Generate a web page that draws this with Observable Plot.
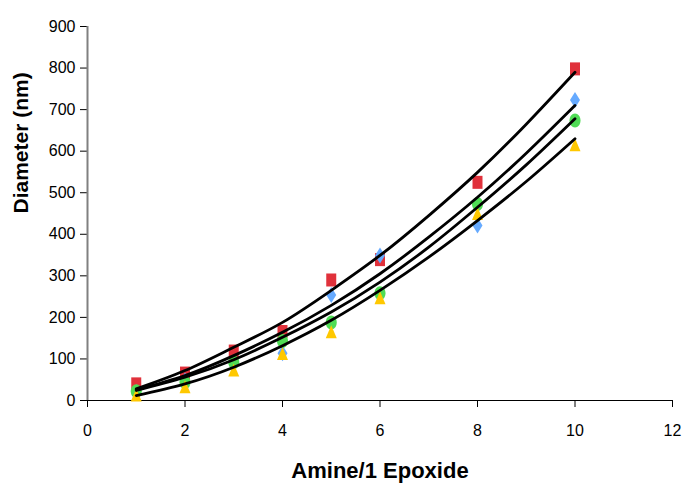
<!DOCTYPE html>
<html>
<head>
<meta charset="utf-8">
<script src="https://cdn.jsdelivr.net/npm/d3@7"></script>
<script src="https://cdn.jsdelivr.net/npm/@observablehq/plot@0.6"></script>
<style>
  body { margin: 0; background: #fff; }
  svg { font-family: "Liberation Sans", Arial, sans-serif; }
</style>
</head>
<body>
<div id="chart"></div>
<script>
// Measured points
const xPts = [1, 2, 3, 4, 5, 6, 8, 10];
const redVals    = [40, 66, 119, 166, 290, 339, 525, 798];
const blueVals   = [20, 48, 88, 114, 254, 349, 421, 723];
const greenVals  = [22, 44, 92, 143, 188, 258, 473, 674];
const yellowVals = [12, 32, 72, 112, 164, 246, 449, 614];

// Trendlines
const xCurve = [1, 2, 3, 4, 5, 6, 7, 8, 9, 10];
const redCurve    = [28, 72, 128, 188, 265, 349, 445, 549, 665, 790];
const blueCurve   = [26, 60, 108, 164, 229, 305, 393, 489, 595, 710];
const greenCurve  = [24, 56, 98, 152, 213, 285, 369, 465, 567, 678];
const yellowCurve = [12, 40, 80, 132, 193, 265, 345, 433, 527, 630];

const xTicks = [0, 2, 4, 6, 8, 10, 12];
const yTicks = [0, 100, 200, 300, 400, 500, 600, 700, 800, 900];

// Custom marker shapes (taller than wide, as in the original)
const tallSquare = {draw(c) { c.moveTo(-5, -6.5); c.lineTo(5, -6.5); c.lineTo(5, 6.5); c.lineTo(-5, 6.5); c.closePath(); }};
const tallDiamond = {draw(c) { c.moveTo(0, -8); c.lineTo(5, 0); c.lineTo(0, 8); c.lineTo(-5, 0); c.closePath(); }};
const tallEllipse = {draw(c) {
  const rx = 5.5, ry = 7, k = 0.5523;
  c.moveTo(rx, 0);
  c.bezierCurveTo(rx, ry * k, rx * k, ry, 0, ry);
  c.bezierCurveTo(-rx * k, ry, -rx, ry * k, -rx, 0);
  c.bezierCurveTo(-rx, -ry * k, -rx * k, -ry, 0, -ry);
  c.bezierCurveTo(rx * k, -ry, rx, -ry * k, rx, 0);
  c.closePath();
}};
const tallTriangle = {draw(c) { c.moveTo(0, -7); c.lineTo(5.5, 6); c.lineTo(-5.5, 6); c.closePath(); }};

const seriesDefs = [
  {name: "red", vals: redVals, curve: redCurve, color: "#e0313b", symbol: tallSquare},
  {name: "blue", vals: blueVals, curve: blueCurve, color: "#66aaff", symbol: tallDiamond},
  {name: "green", vals: greenVals, curve: greenCurve, color: "#50dc55", symbol: tallEllipse},
  {name: "yellow", vals: yellowVals, curve: yellowCurve, color: "#ffc800", symbol: tallTriangle}
];

const marks = [];
for (const s of seriesDefs) {
  const pts = xPts.map((x, i) => ({x, y: s.vals[i]}));
  marks.push(Plot.dot(pts, {x: "x", y: "y", symbol: s.symbol, fill: s.color, stroke: "none", r: 6}));
}
for (const s of seriesDefs) {
  const line = xCurve.map((x, i) => ({x, y: s.curve[i]}));
  marks.push(Plot.line(line, {x: "x", y: "y", stroke: "black", strokeWidth: 2.8, curve: "natural"}));
}

const plot = Plot.plot({
  width: 685,
  height: 489,
  marginLeft: 87,
  marginRight: 13,
  marginTop: 26,
  marginBottom: 89,
  style: {fontFamily: "Liberation Sans, Arial, sans-serif", background: "#fff"},
  x: {domain: [0, 12]},
  y: {domain: [0, 900]},
  marks: [
    Plot.axisX({ticks: xTicks, tickSize: 7, tickPadding: 17, fontSize: 16, label: null, stroke: "black", fill: "black"}),
    Plot.axisY({ticks: yTicks, tickSize: 7, tickPadding: 5, fontSize: 16, label: null, stroke: "black", fill: "black"}),
    Plot.ruleX([0], {stroke: "#808080", strokeWidth: 2}),
    Plot.ruleY([0], {stroke: "black", strokeWidth: 1}),
    ...marks,
    Plot.text(["Amine/1 Epoxide"], {frameAnchor: "bottom", dy: 77, fontSize: 22, fontWeight: "bold", fill: "black"}),
    Plot.text(["Diameter (nm)"], {frameAnchor: "left", dx: -66, rotate: -90, fontSize: 21, fontWeight: "bold", fill: "black"})
  ]
});
document.getElementById("chart").appendChild(plot);
</script>
</body>
</html>
